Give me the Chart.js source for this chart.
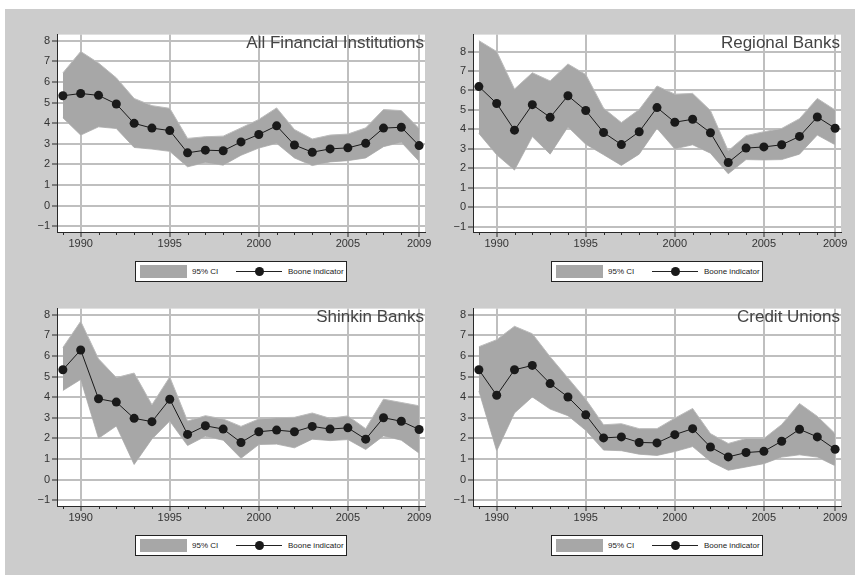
<!DOCTYPE html>
<html><head><meta charset="utf-8">
<script src="https://cdn.jsdelivr.net/npm/chart.js@4.4.1/dist/chart.umd.min.js"></script>
<style>
html,body{margin:0;padding:0;background:#fff;width:855px;height:575px;overflow:hidden;}
#bg{position:absolute;left:5px;top:9px;width:850px;height:566px;background:#cccccc;}
canvas{position:absolute;}
.legend{position:absolute;width:210px;height:19px;border:1px solid #222;background:#fff;font-family:"Liberation Sans",Arial,sans-serif;font-size:8px;color:#222;}
.legend .sw{position:absolute;left:4px;top:3px;width:47px;height:13px;background:#a7a7a7;}
.legend .t1{position:absolute;left:56px;top:5px;line-height:9px;}
.legend .ln{position:absolute;left:100px;top:9px;width:46px;height:1px;background:#222;}
.legend .dot{position:absolute;left:119px;top:5px;width:9px;height:9px;border-radius:50%;background:#1a1a1a;}
.legend .t2{position:absolute;left:152px;top:5px;line-height:9px;}
</style></head>
<body>
<div id="bg"></div>
<script>
// ---- data ----
const years = [1989,1990,1991,1992,1993,1994,1995,1996,1997,1998,1999,2000,2001,2002,2003,2004,2005,2006,2007,2008,2009];
const majorYears = [1990,1995,2000,2005,2009];
const yTicks = [-1,0,1,2,3,4,5,6,7,8];
const legendLabels = ["95% CI","Boone indicator"];

const afiBoone = [5.33,5.44,5.35,4.93,3.99,3.76,3.64,2.56,2.69,2.66,3.09,3.45,3.87,2.94,2.59,2.75,2.80,3.02,3.76,3.80,2.91];
const afiUpper = [6.44,7.48,6.92,6.20,5.20,4.85,4.72,3.26,3.34,3.37,3.77,4.18,4.74,3.69,3.23,3.42,3.47,3.77,4.66,4.61,3.74];
const afiLower = [4.26,3.42,3.82,3.74,2.82,2.74,2.63,1.88,2.09,1.96,2.44,2.79,3.02,2.31,1.94,2.12,2.18,2.31,2.86,3.07,2.15];

const regBoone = [6.20,5.33,3.96,5.27,4.62,5.73,4.97,3.84,3.22,3.88,5.12,4.37,4.52,3.83,2.30,3.04,3.10,3.21,3.64,4.64,4.06];
const regUpper = [8.56,8.00,6.07,6.91,6.49,7.36,6.82,5.09,4.35,5.02,6.23,5.81,5.85,4.97,2.90,3.68,3.88,4.05,4.55,5.59,5.00];
const regLower = [3.79,2.70,1.91,3.63,2.73,4.13,3.24,2.70,2.15,2.73,4.05,3.00,3.21,2.78,1.72,2.45,2.43,2.45,2.73,3.71,3.21];

const shkBoone = [5.33,6.29,3.92,3.76,2.97,2.81,3.90,2.19,2.61,2.45,1.80,2.32,2.40,2.32,2.58,2.45,2.51,1.96,3.00,2.83,2.43];
const shkUpper = [6.41,7.68,5.86,4.95,5.17,3.63,4.98,2.84,3.10,2.94,2.58,2.94,3.00,3.02,3.23,2.97,3.09,2.47,3.90,3.74,3.58];
const shkLower = [4.32,4.86,2.00,2.60,0.73,1.97,2.84,1.65,2.10,1.91,1.03,1.70,1.72,1.54,1.96,1.89,1.94,1.46,2.12,1.91,1.28];

const cuBoone = [5.33,4.09,5.33,5.54,4.66,4.01,3.14,2.02,2.07,1.80,1.78,2.18,2.47,1.58,1.10,1.31,1.37,1.86,2.44,2.07,1.47];
const cuUpper = [6.45,6.79,7.44,7.08,5.96,4.93,3.90,2.66,2.71,2.47,2.47,2.98,3.45,2.23,1.75,1.99,1.99,2.67,3.69,3.07,2.23];
const cuLower = [4.30,1.39,3.23,4.01,3.42,3.10,2.39,1.43,1.40,1.23,1.17,1.36,1.60,0.88,0.45,0.61,0.77,1.09,1.20,1.09,0.67];

const panels = [
  {title:"All Financial Institutions", boone:afiBoone, upper:afiUpper, lower:afiLower, ymin:-1.285, ymax:8.30, left:17,  top:26},
  {title:"Regional Banks",             boone:regBoone, upper:regUpper, lower:regLower, ymin:-1.27,  ymax:8.87, left:433, top:26},
  {title:"Shinkin Banks",              boone:shkBoone, upper:shkUpper, lower:shkLower, ymin:-1.285, ymax:8.30, left:17,  top:300},
  {title:"Credit Unions",              boone:cuBoone,  upper:cuUpper,  lower:cuLower,  ymin:-1.285, ymax:8.30, left:433, top:300}
];

// ---- styles ----
const FONT = '"Liberation Sans", Arial, sans-serif';
const BAND = '#a7a7a7', BAND_EDGE = '#bcbcbc', GRID = '#bfbfbf', AXIS = '#2a2a2a', TXT = '#333333', MARK = '#1a1a1a';
const CW = 420, CH = 232;

const decor = {
  id:'decor',
  beforeDraw(chart){
    const {ctx, chartArea:a} = chart;
    ctx.save();
    ctx.fillStyle = '#ffffff';
    ctx.fillRect(a.left, a.top, a.right - a.left, a.bottom - a.top);
    ctx.restore();
  },
  afterDatasetsDraw(chart){
    const {ctx, chartArea:a} = chart;
    ctx.save();
    ctx.font = '17px ' + FONT;
    ctx.fillStyle = '#444444';
    ctx.textAlign = 'right';
    ctx.textBaseline = 'top';
    ctx.fillText(chart.options.plugins.decor.title, a.right - 1, a.top + 0.5);
    ctx.restore();
  },
  afterDraw(chart){
    const {ctx, chartArea:a, scales} = chart;
    const x = scales.x;
    ctx.save();
    ctx.strokeStyle = AXIS; ctx.lineWidth = 1;
    years.filter(v => !majorYears.includes(v)).forEach(v => {
      const px = Math.round(x.getPixelForValue(v)) + 0.5;
      ctx.beginPath(); ctx.moveTo(px, a.bottom); ctx.lineTo(px, a.bottom + 3); ctx.stroke();
    });
    ctx.restore();
  }
};

const pts = arr => years.map((yr,i) => ({x:yr, y:arr[i]}));

panels.forEach((p, idx) => {
  const cv = document.createElement('canvas');
  cv.width = CW; cv.height = CH;
  cv.style.left = p.left + 'px'; cv.style.top = p.top + 'px';
  cv.style.width = CW + 'px'; cv.style.height = CH + 'px';
  document.body.appendChild(cv);

  new Chart(cv, {
    type:'line',
    data:{ datasets:[
      {label:legendLabels[1], data:pts(p.boone), borderColor:MARK, borderWidth:1, pointRadius:4.5, pointBackgroundColor:MARK, pointBorderWidth:0, fill:false, tension:0, order:0},
      {label:legendLabels[0]+' upper', data:pts(p.upper), borderColor:BAND_EDGE, borderWidth:1, pointRadius:0, backgroundColor:BAND, fill:'+1', tension:0, order:1},
      {label:legendLabels[0]+' lower', data:pts(p.lower), borderColor:BAND_EDGE, borderWidth:1, pointRadius:0, fill:false, tension:0, order:2}
    ]},
    options:{
      responsive:false, animation:false, devicePixelRatio:1,
      layout:{padding:{top:5, right:12, left:0, bottom:0}},
      plugins:{legend:{display:false}, tooltip:{enabled:false}, decor:{title:p.title}},
      scales:{
        x:{type:'linear', min:1988.67, max:2009.33,
          afterBuildTicks: s => { s.ticks = years.map(v => ({value:v})); },
          afterFit: s => { s.height = CH - 206; },
          ticks:{autoSkip:false, maxRotation:0, minRotation:0, padding:0, color:TXT, font:{family:FONT, size:11},
            callback: v => majorYears.includes(v) ? String(v) : ''},
          grid:{color: c => (c.tick && majorYears.includes(c.tick.value)) ? GRID : 'rgba(0,0,0,0)',
                tickColor: c => (c.tick && majorYears.includes(c.tick.value)) ? AXIS : 'rgba(0,0,0,0)',
                lineWidth:2, tickLength:5, tickWidth:1},
          border:{color:AXIS, width:1}
        },
        y:{type:'linear', min:p.ymin, max:p.ymax,
          afterBuildTicks: s => { s.ticks = yTicks.map(v => ({value:v})); },
          afterFit: s => { s.width = 40; },
          ticks:{padding:2, color:TXT, font:{family:FONT, size:11},
            callback: v => v < 0 ? '\u2212' + Math.abs(v) : String(v)},
          grid:{color:GRID, lineWidth:2, tickLength:5, tickColor:AXIS, tickWidth:1},
          border:{color:AXIS, width:1}
        }
      }
    },
    plugins:[decor]
  });

  // legend box centered under plot area
  const lg = document.createElement('div');
  lg.className = 'legend';
  lg.style.left = (p.left + 40 + 184 - 106) + 'px';
  lg.style.top = (p.top + 235) + 'px';
  lg.innerHTML = '<div class="sw"></div><div class="t1">' + legendLabels[0] + '</div><div class="ln"></div><div class="dot"></div><div class="t2">' + legendLabels[1] + '</div>';
  document.body.appendChild(lg);
});
</script>
</body></html>
